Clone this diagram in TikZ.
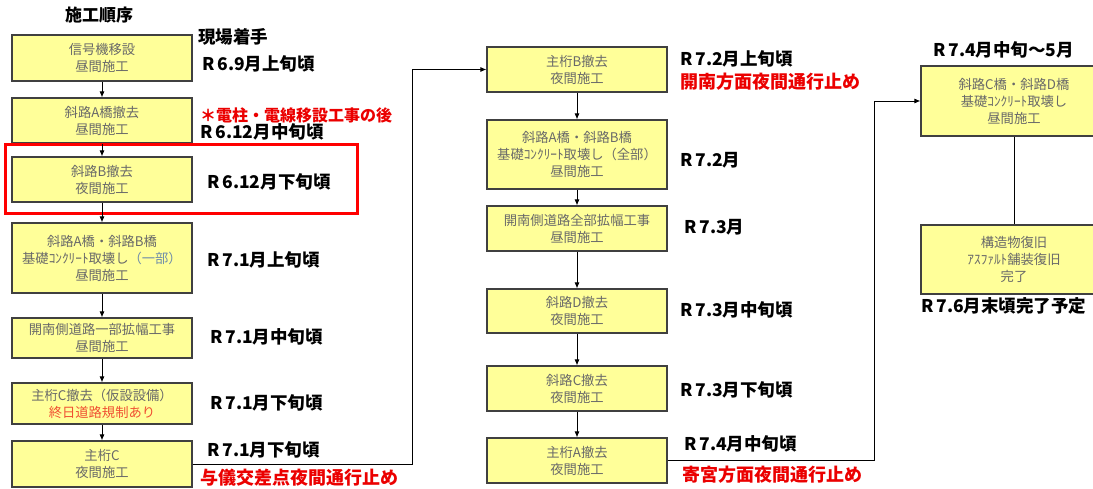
\documentclass[tikz,border=0pt]{standalone}
\usepackage{fontspec}
\setmainfont{Noto Sans CJK JP}
\usetikzlibrary{arrows.meta}

\definecolor{boxyellow}{RGB}{255,255,153}
\definecolor{boxedge}{RGB}{64,64,64}
\definecolor{boxtext}{RGB}{105,105,105}
\definecolor{boxnote}{RGB}{240,80,50}
\definecolor{boxpart}{RGB}{110,140,170}
\definecolor{notered}{RGB}{235,0,0}

\tikzstyle{workbox}=[draw=boxedge, line width=1.2pt, fill=boxyellow, text=boxtext, minimum width=180pt, align=center, inner sep=0pt, font=\fontsize{13.3}{17}\selectfont]
\tikzstyle{datelabel}=[anchor=west, inner sep=0pt, font=\fontsize{17.5}{20}\selectfont\bfseries]
\tikzstyle{notelabel}=[datelabel, text=notered, font=\fontsize{18}{20}\selectfont\bfseries]
\tikzstyle{flow}=[line width=0.8pt, -{Latex[length=6pt,width=5pt]}]

\begin{document}
\begin{tikzpicture}[x=1pt, y=-1pt]
\useasboundingbox (0,0) rectangle (1093,489);

% left column
\node[datelabel, anchor=center, font=\fontsize{17}{20}\selectfont\bfseries] (title) at (99,15) {施工順序};
\node[workbox, minimum height=46pt] (b1) at (102,58) {信号機移設\\昼間施工};
\node[workbox, minimum height=45pt] (b2) at (102,120.5) {斜路A橋撤去\\昼間施工};
\node[workbox, minimum height=45pt] (b3) at (102,179.5) {斜路B撤去\\夜間施工};
\node[workbox, minimum height=70pt] (b4) at (102,258) {斜路A橋・斜路B橋\\基礎ｺﾝｸﾘｰﾄ取壊し{\color{boxpart}（一部）}\\昼間施工};
\node[workbox, minimum height=40pt] (b5) at (102,338) {開南側道路一部拡幅工事\\昼間施工};
\node[workbox, minimum height=41pt] (b6) at (102,403.5) {主桁C撤去（仮設設備）\\{\color{boxnote}終日道路規制あり}};
\node[workbox, minimum height=46pt] (b7) at (102,464) {主桁C\\夜間施工};

\draw[red, line width=3pt] (5,145) rectangle (357,214);

\node[datelabel] (start) at (198,37) {現場着手};
\node[datelabel] (d1) at (202,64) {R\,6.9月上旬頃};
\node[notelabel, font=\fontsize{16}{18}\selectfont\bfseries] (n1) at (200,115) {＊電柱・電線移設工事の後};
\node[datelabel] (d2) at (200,132) {R\,6.12月中旬頃};
\node[datelabel] (d3) at (207,182) {R\,6.12月下旬頃};
\node[datelabel] (d4) at (207,260) {R\,7.1月上旬頃};
\node[datelabel] (d5) at (210,337) {R\,7.1月中旬頃};
\node[datelabel] (d6) at (210,403) {R\,7.1月下旬頃};
\node[datelabel] (d7) at (207,450) {R\,7.1月下旬頃};
\node[notelabel] (n2) at (200,478) {与儀交差点夜間通行止め};

% middle column
\node[workbox, minimum height=45pt] (m1) at (577,69.5) {主桁B撤去\\夜間施工};
\node[workbox, minimum height=69pt] (m2) at (577,154.5) {斜路A橋・斜路B橋\\基礎ｺﾝｸﾘｰﾄ取壊し（全部）\\昼間施工};
\node[workbox, minimum height=45pt] (m3) at (577,228.5) {開南側道路全部拡幅工事\\昼間施工};
\node[workbox, minimum height=44pt] (m4) at (577,311) {斜路D撤去\\夜間施工};
\node[workbox, minimum height=45pt] (m5) at (577,388.5) {斜路C撤去\\夜間施工};
\node[workbox, minimum height=45pt] (m6) at (577,460.5) {主桁A撤去\\夜間施工};

\node[datelabel] (e1) at (680,59) {R\,7.2月上旬頃};
\node[notelabel] (n3) at (680,82) {開南方面夜間通行止め};
\node[datelabel] (e2) at (680,160) {R\,7.2月};
\node[datelabel] (e3) at (684,227) {R\,7.3月};
\node[datelabel] (e4) at (680,310) {R\,7.3月中旬頃};
\node[datelabel] (e5) at (680,390) {R\,7.3月下旬頃};
\node[datelabel] (e6) at (684,444) {R\,7.4月中旬頃};
\node[notelabel] (n4) at (682,475) {寄宮方面夜間通行止め};

% right column
\node[workbox, minimum width=186pt, minimum height=70pt] (r1) at (1014,101) {斜路C橋・斜路D橋\\基礎ｺﾝｸﾘｰﾄ取壊し\\昼間施工};
\node[workbox, minimum width=186pt, minimum height=69pt] (r2) at (1014,259.5) {構造物復旧\\ｱｽﾌｧﾙﾄ舗装復旧\\完了};

\node[datelabel] (f1) at (933,50) {R\,7.4月中旬～5月};
\node[datelabel] (f2) at (921,306) {R\,7.6月末頃完了予定};

% connectors
\foreach \a/\b in {b1/b2, b2/b3, b3/b4, b4/b5, b5/b6, b6/b7, m1/m2, m2/m3, m3/m4, m4/m5, m5/m6}
  \draw[flow] (\a) -- (\b);
\draw[line width=0.8pt] (r1) -- (r2);

\coordinate (jogA) at (412,461);
\coordinate (jogB) at (874,458);
\draw[flow] (b7.east) -- (b7.east -| jogA) |- (m1.west);
\draw[flow] (m6.east) -- (m6.east -| jogB) |- (r1.west);
\end{tikzpicture}
\end{document}
